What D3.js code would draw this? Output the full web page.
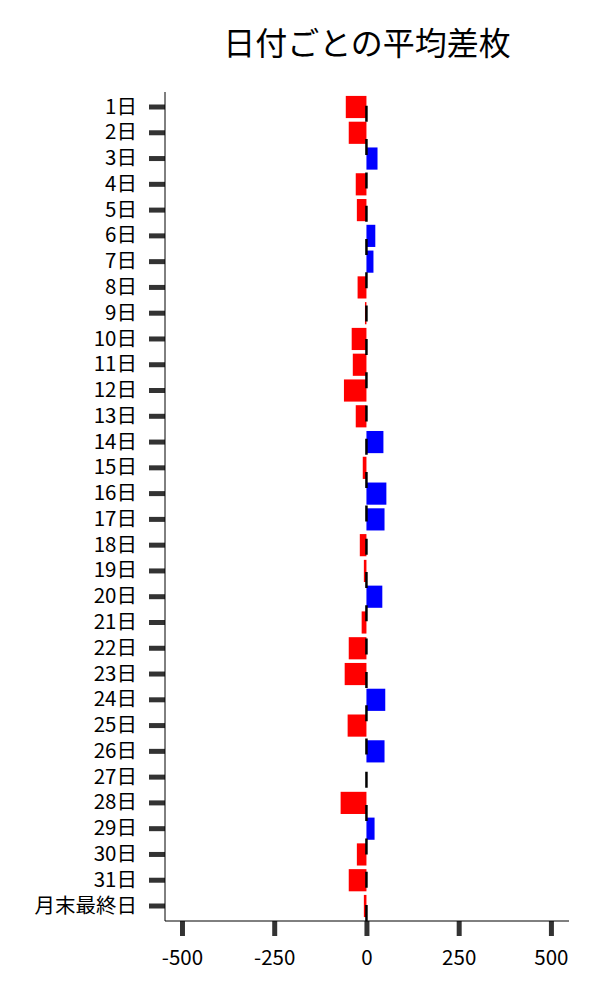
<!DOCTYPE html>
<html>
<head>
<meta charset="utf-8">
<script src="https://cdn.jsdelivr.net/npm/d3@7"></script>
<style>
body { margin: 0; background: #fff; }
text { font-family: "Noto Sans CJK JP", sans-serif; }
</style>
</head>
<body>
<script>
// Data
var days = ["1日","2日","3日","4日","5日","6日","7日","8日","9日","10日",
	"11日","12日","13日","14日","15日","16日","17日","18日","19日","20日",
	"21日","22日","23日","24日","25日","26日","27日","28日","29日","30日",
	"31日","月末最終日"];
var avgDiff = [-56, -48, 30, -29, -26, 24, 19, -24, -4, -40,
	-37, -61, -29, 46, -10, 54, 49, -18, -7, 43,
	-13, -48, -59, 51, -51, 49, 0, -70, 22, -26,
	-48, -7];
var xTicks = [-500, -250, 0, 250, 500];

var data = days.map(function(d, i) { return {day: d, value: avgDiff[i]}; });

var width = 600, height = 1000;
var margin = {left: 165, right: 569, top: 92, bottom: 921};

var svg = d3.select("body").append("svg")
	.attr("width", width)
	.attr("height", height);

var x = d3.scaleLinear()
	.domain([-546, 549])
	.range([margin.left, margin.right]);

var y = d3.scaleBand()
	.domain(days)
	.range([margin.top, margin.bottom])
	.paddingInner(0.14)
	.paddingOuter(0.152);

// title
svg.append("text")
	.attr("x", (margin.left + margin.right) / 2)
	.attr("y", 55)
	.attr("text-anchor", "middle")
	.style("font-size", "32px")
	.text("日付ごとの平均差枚");

// bars
svg.selectAll(".bar")
	.data(data)
	.enter().append("rect")
	.attr("class", "bar")
	.attr("x", function(d) { return x(Math.min(0, d.value)); })
	.attr("y", function(d) { return y(d.day); })
	.attr("width", function(d) { return Math.abs(x(d.value) - x(0)); })
	.attr("height", y.bandwidth())
	.attr("fill", function(d) { return d.value < 0 ? "#ff0000" : "#0000ff"; });

// dashed zero line, drawn from the bottom up
svg.append("line")
	.attr("x1", x(0)).attr("x2", x(0))
	.attr("y1", margin.bottom).attr("y2", margin.top)
	.attr("stroke", "#000")
	.attr("stroke-width", 2.5)
	.attr("stroke-dasharray", "16,17.3");

// axes
var xAxis = d3.axisBottom(x)
	.tickValues(xTicks)
	.tickSize(15)
	.tickSizeOuter(0)
	.tickPadding(14)
	.tickFormat(function(d) { return String(d); }); // plain hyphen minus

var yAxis = d3.axisLeft(y)
	.tickSize(16)
	.tickSizeOuter(0)
	.tickPadding(12);

var gx = svg.append("g")
	.attr("transform", "translate(0," + margin.bottom + ")")
	.call(xAxis);

var gy = svg.append("g")
	.attr("transform", "translate(" + margin.left + ",0)")
	.call(yAxis);

[gx, gy].forEach(function(g) {
	g.select(".domain").remove();
	g.selectAll(".tick line")
		.attr("stroke", "#333")
		.attr("stroke-width", 5);
	g.selectAll(".tick text")
		.attr("fill", "#000")
		.style("font-size", "20.5px")
		.style("font-family", "'Noto Sans CJK JP', sans-serif");
});

// spines
svg.append("line")
	.attr("x1", margin.left).attr("x2", margin.left)
	.attr("y1", margin.top).attr("y2", margin.bottom)
	.attr("stroke", "#000").attr("stroke-width", 1);
svg.append("line")
	.attr("x1", margin.left).attr("x2", margin.right)
	.attr("y1", margin.bottom).attr("y2", margin.bottom)
	.attr("stroke", "#000").attr("stroke-width", 1);
</script>
</body>
</html>
